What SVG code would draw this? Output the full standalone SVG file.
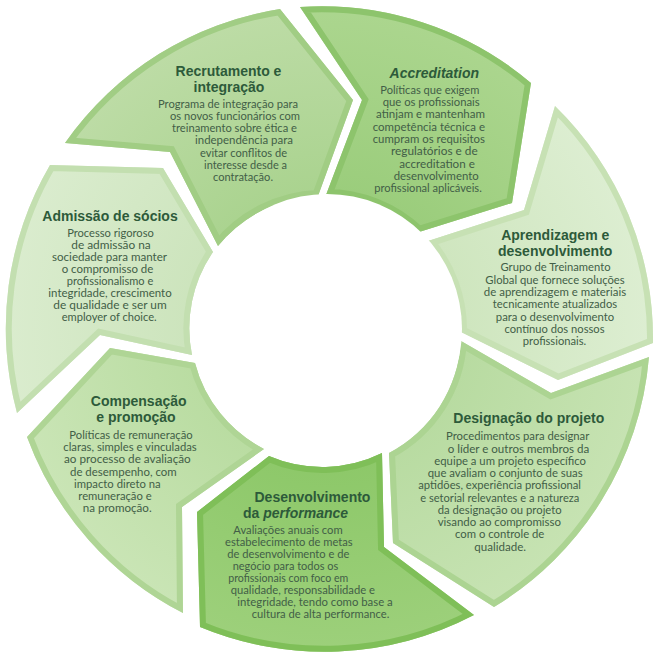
<svg xmlns="http://www.w3.org/2000/svg" xmlns:xlink="http://www.w3.org/1999/xlink" width="663" height="657" viewBox="0 0 663 657">
<style>
.t{font-family:"Liberation Sans",Arial,sans-serif;font-weight:bold;font-size:14px;fill:#2d5a3a}
.ti{font-style:italic}
.b{font-family:Lato,"Liberation Sans",sans-serif;font-size:11.5px;fill:#425e47}
.m{text-anchor:middle}
.k{fill:none;stroke-width:12}
.f1{fill:url(#g1)}.k1{stroke:#a1cd84}
.f2{fill:url(#g2)}.k2{stroke:#8dc46c}
.f3{fill:url(#g3)}.k3{stroke:#c7e1b4}
.f4{fill:url(#g4)}.k4{stroke:#acd492}
.f5{fill:url(#g5)}.k5{stroke:#7fbf58}
.f6{fill:url(#g6)}.k6{stroke:#afd595}
.f7{fill:url(#g7)}.k7{stroke:#c3dfb0}
</style>
<defs>
<radialGradient id="g1" gradientUnits="userSpaceOnUse" cx="330" cy="329" r="325"><stop offset="0.42" stop-color="#aad38f"/><stop offset="1" stop-color="#bddca6"/></radialGradient>
<radialGradient id="g2" gradientUnits="userSpaceOnUse" cx="330" cy="329" r="325"><stop offset="0.42" stop-color="#9bcd7c"/><stop offset="1" stop-color="#acd68f"/></radialGradient>
<radialGradient id="g3" gradientUnits="userSpaceOnUse" cx="330" cy="329" r="325"><stop offset="0.42" stop-color="#cfe6bf"/><stop offset="1" stop-color="#ddeed2"/></radialGradient>
<radialGradient id="g4" gradientUnits="userSpaceOnUse" cx="330" cy="329" r="325"><stop offset="0.42" stop-color="#b8dba1"/><stop offset="1" stop-color="#c7e3b3"/></radialGradient>
<radialGradient id="g5" gradientUnits="userSpaceOnUse" cx="330" cy="329" r="325"><stop offset="0.42" stop-color="#8dc869"/><stop offset="1" stop-color="#9dd07b"/></radialGradient>
<radialGradient id="g6" gradientUnits="userSpaceOnUse" cx="330" cy="329" r="325"><stop offset="0.42" stop-color="#b9dca1"/><stop offset="1" stop-color="#cae5b6"/></radialGradient>
<radialGradient id="g7" gradientUnits="userSpaceOnUse" cx="330" cy="329" r="325"><stop offset="0.42" stop-color="#cce4bc"/><stop offset="1" stop-color="#daecce"/></radialGradient>
<path id="p1" d="M65,143 A324,324 0 0 1 280,9 L353,100 L318,196 A135,135 0 0 0 218,246 L170,152 Z"/>
<path id="p2" d="M300,7 A324,324 0 0 1 531,83 L512,203 L419,232 A135,135 0 0 0 326,195 L362,100 Z"/>
<path id="p3" d="M555,106 A324,324 0 0 1 653,343 L558,380 L461,332 A135,135 0 0 0 428,241 L524,210 Z"/>
<path id="p4" d="M649,357 A324,324 0 0 1 494,607 L393,543 L389,453 A135,135 0 0 0 461,341 L551,393 Z"/>
<path id="p5" d="M474,615 A324,324 0 0 1 200,627 L197,512 L269,456 A135,135 0 0 0 382,453 L384,547 Z"/>
<path id="p6" d="M183,613 A324,324 0 0 1 27,437 L110,348 L195,363 A135,135 0 0 0 264,449 L182,507 Z"/>
<path id="p7" d="M17,413 A324,324 0 0 1 50,165 L163,168 L213,252 A135,135 0 0 0 192,355 L100,335 Z"/>
<clipPath id="c1"><use href="#p1"/></clipPath>
<clipPath id="c2"><use href="#p2"/></clipPath>
<clipPath id="c3"><use href="#p3"/></clipPath>
<clipPath id="c4"><use href="#p4"/></clipPath>
<clipPath id="c5"><use href="#p5"/></clipPath>
<clipPath id="c6"><use href="#p6"/></clipPath>
<clipPath id="c7"><use href="#p7"/></clipPath>
</defs>
<rect width="663" height="657" fill="#ffffff"/>

<g id="node-recrutamento">
<use href="#p1" class="f1"/><use href="#p1" class="k k1" clip-path="url(#c1)"/>
<text class="t m" x="228.5" y="75.5">Recrutamento e</text>
<text class="t m" x="229" y="91.5">integração</text>
<text class="b" x="158" y="107.5" textLength="140" lengthAdjust="spacingAndGlyphs">Programa de integração para</text>
<text class="b" x="170" y="119.8" textLength="130" lengthAdjust="spacingAndGlyphs">os novos funcionários com</text>
<text class="b" x="172" y="132.1" textLength="125" lengthAdjust="spacingAndGlyphs">treinamento sobre ética e</text>
<text class="b" x="195" y="144.4" textLength="98" lengthAdjust="spacingAndGlyphs">independência para</text>
<text class="b" x="200" y="156.7" textLength="87" lengthAdjust="spacingAndGlyphs">evitar conflitos de</text>
<text class="b" x="204" y="169" textLength="83" lengthAdjust="spacingAndGlyphs">interesse desde a</text>
<text class="b" x="213" y="181.3" textLength="60" lengthAdjust="spacingAndGlyphs">contratação.</text>
</g>

<g id="node-accreditation">
<use href="#p2" class="f2"/><use href="#p2" class="k k2" clip-path="url(#c2)"/>
<text class="t ti m" x="434.3" y="78.3">Accreditation</text>
<text class="b" x="380.3" y="93.7" textLength="99" lengthAdjust="spacingAndGlyphs">Políticas que exigem</text>
<text class="b" x="382.7" y="106" textLength="97" lengthAdjust="spacingAndGlyphs">que os profissionais</text>
<text class="b" x="376" y="118.3" textLength="109" lengthAdjust="spacingAndGlyphs">atinjam e mantenham</text>
<text class="b" x="372.7" y="130.6" textLength="112.3" lengthAdjust="spacingAndGlyphs">competência técnica e</text>
<text class="b" x="372.7" y="142.9" textLength="112.3" lengthAdjust="spacingAndGlyphs">cumpram os requisitos</text>
<text class="b" x="391" y="155.2" textLength="86.7" lengthAdjust="spacingAndGlyphs">regulatórios e de</text>
<text class="b" x="399.3" y="167.5" textLength="75.5" lengthAdjust="spacingAndGlyphs">accreditation e</text>
<text class="b" x="393.7" y="179.8" textLength="85" lengthAdjust="spacingAndGlyphs">desenvolvimento</text>
<text class="b" x="374.3" y="192.1" textLength="107.5" lengthAdjust="spacingAndGlyphs">profissional aplicáveis.</text>
</g>

<g id="node-aprendizagem">
<use href="#p3" class="f3"/><use href="#p3" class="k k3" clip-path="url(#c3)"/>
<text class="t m" x="555.2" y="240">Aprendizagem e</text>
<text class="t m" x="555.2" y="256">desenvolvimento</text>
<text class="b m" x="555.5" y="271.3" textLength="110" lengthAdjust="spacingAndGlyphs">Grupo de Treinamento</text>
<text class="b m" x="555" y="283.6" textLength="139.3" lengthAdjust="spacingAndGlyphs">Global que fornece soluções</text>
<text class="b m" x="555" y="295.9" textLength="142.3" lengthAdjust="spacingAndGlyphs">de aprendizagem e materiais</text>
<text class="b m" x="555" y="308.2" textLength="124.3" lengthAdjust="spacingAndGlyphs">tecnicamente atualizados</text>
<text class="b m" x="555" y="320.5" textLength="118.3" lengthAdjust="spacingAndGlyphs">para o desenvolvimento</text>
<text class="b m" x="554.5" y="332.8" textLength="100" lengthAdjust="spacingAndGlyphs">contínuo dos nossos</text>
<text class="b m" x="554.5" y="345.1" textLength="63.3" lengthAdjust="spacingAndGlyphs">profissionais.</text>
</g>

<g id="node-designacao">
<use href="#p4" class="f4"/><use href="#p4" class="k k4" clip-path="url(#c4)"/>
<text class="t m" x="528.8" y="423.3">Designação do projeto</text>
<text class="b" x="446" y="440.3" textLength="143.3" lengthAdjust="spacingAndGlyphs">Procedimentos para designar</text>
<text class="b" x="447.7" y="452.5" textLength="141.6" lengthAdjust="spacingAndGlyphs">o líder e outros membros da</text>
<text class="b" x="434.3" y="464.8" textLength="151.7" lengthAdjust="spacingAndGlyphs">equipe a um projeto específico</text>
<text class="b" x="427.7" y="477" textLength="155" lengthAdjust="spacingAndGlyphs">que avaliam o conjunto de suas</text>
<text class="b" x="418.3" y="489.3" textLength="162.7" lengthAdjust="spacingAndGlyphs">aptidões, experiência profissional</text>
<text class="b" x="420.3" y="501.5" textLength="159" lengthAdjust="spacingAndGlyphs">e setorial relevantes e a natureza</text>
<text class="b" x="437.7" y="513.8" textLength="124" lengthAdjust="spacingAndGlyphs">da designação ou projeto</text>
<text class="b" x="437.7" y="526" textLength="123.3" lengthAdjust="spacingAndGlyphs">visando ao compromisso</text>
<text class="b" x="455" y="538.3" textLength="89.3" lengthAdjust="spacingAndGlyphs">com o controle de</text>
<text class="b" x="474.3" y="550.5" textLength="51.7" lengthAdjust="spacingAndGlyphs">qualidade.</text>
</g>

<g id="node-desempenho">
<use href="#p5" class="f5"/><use href="#p5" class="k k5" clip-path="url(#c5)"/>
<text class="t" x="254.5" y="501.5">Desenvolvimento</text>
<text class="t" x="243" y="517.5">da <tspan class="ti">performance</tspan></text>
<text class="b" x="233.3" y="533.7" textLength="109.4" lengthAdjust="spacingAndGlyphs">Avaliações anuais com</text>
<text class="b" x="225" y="545.8" textLength="127.7" lengthAdjust="spacingAndGlyphs">estabelecimento de metas</text>
<text class="b" x="227.3" y="557.9" textLength="122" lengthAdjust="spacingAndGlyphs">de desenvolvimento e de</text>
<text class="b" x="232.7" y="570" textLength="105.6" lengthAdjust="spacingAndGlyphs">negócio para todos os</text>
<text class="b" x="228.3" y="582.1" textLength="120" lengthAdjust="spacingAndGlyphs">profissionais com foco em</text>
<text class="b" x="230.7" y="594.2" textLength="144.3" lengthAdjust="spacingAndGlyphs">qualidade, responsabilidade e</text>
<text class="b" x="237.3" y="606.3" textLength="155.4" lengthAdjust="spacingAndGlyphs">integridade, tendo como base a</text>
<text class="b" x="251.7" y="618.4" textLength="137.6" lengthAdjust="spacingAndGlyphs">cultura de alta performance.</text>
</g>

<g id="node-compensacao">
<use href="#p6" class="f6"/><use href="#p6" class="k k6" clip-path="url(#c6)"/>
<text class="t m" x="138.7" y="406">Compensação</text>
<text class="t m" x="136" y="422">e promoção</text>
<text class="b" x="69.3" y="439" textLength="123.4" lengthAdjust="spacingAndGlyphs">Políticas de remuneração</text>
<text class="b" x="63.3" y="451.2" textLength="133.4" lengthAdjust="spacingAndGlyphs">claras, simples e vinculadas</text>
<text class="b" x="64" y="463.4" textLength="126.7" lengthAdjust="spacingAndGlyphs">ao processo de avaliação</text>
<text class="b" x="70" y="475.6" textLength="106.7" lengthAdjust="spacingAndGlyphs">de desempenho, com</text>
<text class="b" x="74" y="487.8" textLength="86.7" lengthAdjust="spacingAndGlyphs">impacto direto na</text>
<text class="b" x="78.3" y="500" textLength="73.4" lengthAdjust="spacingAndGlyphs">remuneração e</text>
<text class="b" x="82.7" y="512.2" textLength="69" lengthAdjust="spacingAndGlyphs">na promoção.</text>
</g>

<g id="node-admissao">
<use href="#p7" class="f7"/><use href="#p7" class="k k7" clip-path="url(#c7)"/>
<text class="t m" x="110" y="220.5">Admissão de sócios</text>
<text class="b m" x="110.5" y="236.7" textLength="86.7" lengthAdjust="spacingAndGlyphs">Processo rigoroso</text>
<text class="b m" x="111" y="248.8" textLength="79.5" lengthAdjust="spacingAndGlyphs">de admissão na</text>
<text class="b m" x="109.5" y="260.9" textLength="115" lengthAdjust="spacingAndGlyphs">sociedade para manter</text>
<text class="b m" x="107.5" y="273" textLength="91.6" lengthAdjust="spacingAndGlyphs">o compromisso de</text>
<text class="b m" x="110" y="285.1" textLength="86.6" lengthAdjust="spacingAndGlyphs">profissionalismo e</text>
<text class="b m" x="110" y="297.2" textLength="123.4" lengthAdjust="spacingAndGlyphs">integridade, crescimento</text>
<text class="b m" x="110" y="309.3" textLength="113.4" lengthAdjust="spacingAndGlyphs">de qualidade e ser um</text>
<text class="b m" x="109.2" y="321.4" textLength="95" lengthAdjust="spacingAndGlyphs">employer of choice.</text>
</g>

<circle cx="327" cy="329" r="135" fill="#ffffff"/>
</svg>
